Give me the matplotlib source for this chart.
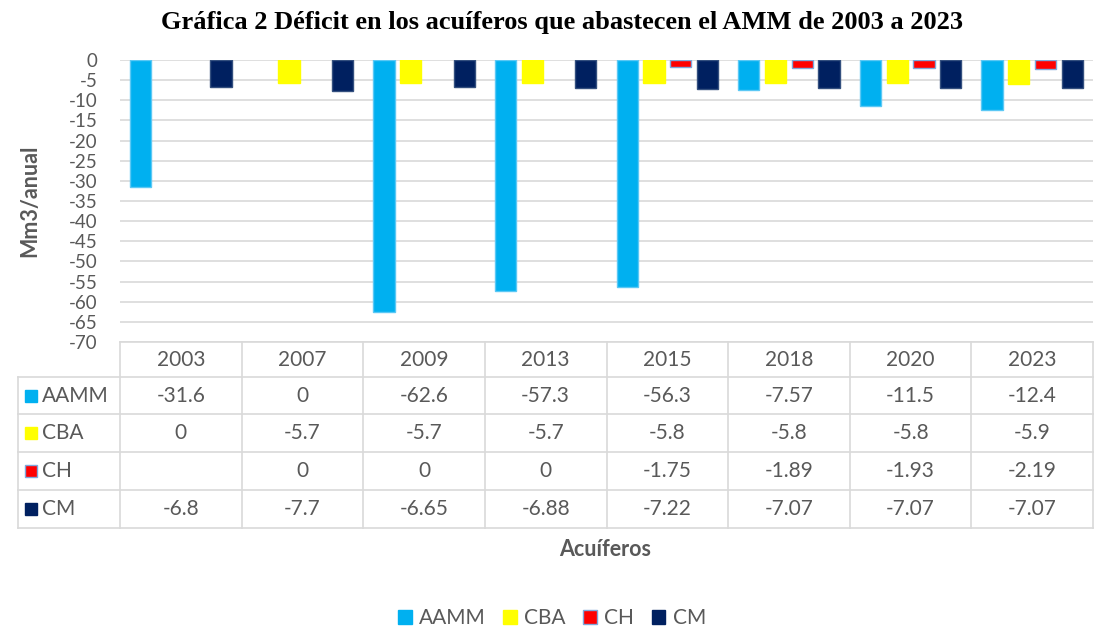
import numpy as np
import matplotlib
matplotlib.use("Agg")
import matplotlib.pyplot as plt
from matplotlib.lines import Line2D
from matplotlib.patches import Patch, Rectangle

# ---- data ----
years = ["2003", "2007", "2009", "2013", "2015", "2018", "2020", "2023"]
series_names = ["AAMM", "CBA", "CH", "CM"]
aamm = [-31.6, 0, -62.6, -57.3, -56.3, -7.57, -11.5, -12.4]
cba = [0, -5.7, -5.7, -5.7, -5.8, -5.8, -5.8, -5.9]
ch = [np.nan, 0, 0, 0, -1.75, -1.89, -1.93, -2.19]
cm = [-6.8, -7.7, -6.65, -6.88, -7.22, -7.07, -7.07, -7.07]
yticks = list(range(0, -75, -5))

title = "Gráfica 2 Déficit en los acuíferos que abastecen el AMM de 2003 a 2023"
ylabel = "Mm3/anual"
xlabel = "Acuíferos"

colors = ["#00B0F0", "#FFFF00", "#FF0000", "#002060"]
edges = ["#5BC8F5", "#FFFF00", "#7FA7DA", "#34507F"]
txt_col = "#595959"
grid_col = "#D9D9D9"
FONT = "Lato"

W, H = 1109, 630
fig = plt.figure(figsize=(W / 100, H / 100), dpi=100)

def fx(x):
    return x / W

def fy(y):
    return 1 - y / H

# plot area
L, R, T, B = 120, 1093, 60, 342
ax = fig.add_axes([fx(L), fy(B), fx(R) - fx(L), fy(T) - fy(B)])
ax.set_ylim(-70, 0)
ax.set_xlim(-0.5, len(years) - 0.5)
ax.set_yticks(yticks)
ax.set_yticklabels([str(v) for v in yticks], fontsize=13.5, color=txt_col, family=FONT)
ax.tick_params(axis="y", length=0, pad=16)
ax.set_xticks([])
for s in ax.spines.values():
    s.set_visible(False)
ax.yaxis.grid(True, color=grid_col, lw=1.2)
ax.set_axisbelow(True)

offsets = [-0.33, -0.11, 0.11, 0.33]
width = 0.175
x = np.arange(len(years))
for data, off, c, e in zip([aamm, cba, ch, cm], offsets, colors, edges):
    vals = np.array(data, dtype=float)
    mask = ~np.isnan(vals) & (vals != 0)
    ax.bar(x[mask] + off, vals[mask], width=width, color=c, edgecolor=e, lw=1.0, zorder=3)

fig.text(fx(30), fy(201), ylabel, rotation=90, ha="center", va="center",
         fontsize=15.5, fontweight="bold", color=txt_col, family=FONT)

# title
fig.text(fx(562), fy(22), title, ha="center", va="center", fontsize=19,
         fontweight="bold", family="Liberation Serif", color="black")

# table
tl = 18
col_w = (R - L) / len(years)
row_y = [342, 377, 414, 452, 490, 528]
lw = 1.2
fig.add_artist(Line2D([fx(L), fx(R)], [fy(row_y[0])] * 2, color=grid_col, lw=lw))
for yy in row_y[1:]:
    fig.add_artist(Line2D([fx(tl), fx(R)], [fy(yy)] * 2, color=grid_col, lw=lw))
for i in range(len(years) + 1):
    xx = L + i * col_w
    fig.add_artist(Line2D([fx(xx)] * 2, [fy(row_y[0]), fy(row_y[-1])], color=grid_col, lw=lw))
fig.add_artist(Line2D([fx(tl)] * 2, [fy(row_y[1]), fy(row_y[-1])], color=grid_col, lw=lw))

for i, yr in enumerate(years):
    cx = L + (i + 0.5) * col_w
    fig.text(fx(cx), fy((row_y[0] + row_y[1]) / 2), yr, ha="center", va="center",
             fontsize=15, color=txt_col, family=FONT)

def fmt(v):
    if np.isnan(v):
        return ""
    return "{:g}".format(v)

for r, (name, data) in enumerate(zip(series_names, [aamm, cba, ch, cm])):
    cy = (row_y[r + 1] + row_y[r + 2]) / 2
    sq = 12
    fig.add_artist(Rectangle((fx(25), fy(cy + sq / 2)), sq / W, sq / H,
                             facecolor=colors[r], edgecolor=edges[r] if r == 2 else colors[r],
                             lw=1.0, transform=fig.transFigure))
    fig.text(fx(42), fy(cy), name, ha="left", va="center", fontsize=15,
             color=txt_col, family=FONT)
    for i, v in enumerate(data):
        cx = L + (i + 0.5) * col_w
        fig.text(fx(cx), fy(cy), fmt(float(v)), ha="center", va="center",
                 fontsize=15, color=txt_col, family=FONT)

fig.text(fx(605), fy(550), xlabel, ha="center", va="center", fontsize=15.5,
         fontweight="bold", color=txt_col, family=FONT)

handles = [Patch(facecolor=c, edgecolor=(e if i == 2 else c), lw=1.0)
           for i, (c, e) in enumerate(zip(colors, edges))]
leg = fig.legend(handles, series_names, loc="center", bbox_to_anchor=(fx(552), fy(618)),
                 ncol=4, frameon=False, handlelength=0.65, handleheight=0.65,
                 handletextpad=0.35, columnspacing=0.85,
                 prop={"family": FONT, "size": 15})
for t in leg.get_texts():
    t.set_color(txt_col)

fig.savefig("out.png", dpi=100)
